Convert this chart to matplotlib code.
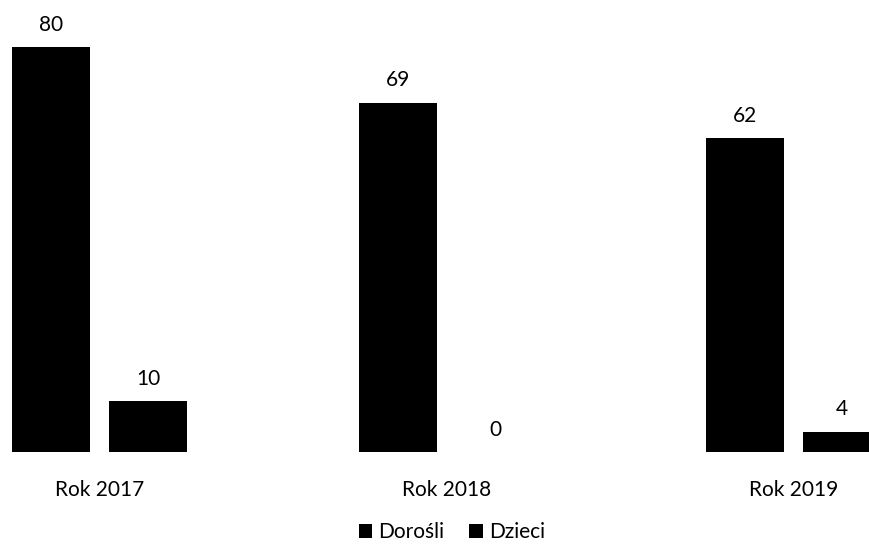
import numpy as np
import matplotlib.pyplot as plt

plt.rcParams['font.family'] = ['Lato', 'DejaVu Sans']

years = ['Rok 2017', 'Rok 2018', 'Rok 2019']
dorosli = [80, 69, 62]
dzieci = [10, 0, 4]

fig = plt.figure(figsize=(8.7, 5.45), dpi=100)
ax = fig.add_axes([0, 93 / 545, 1, 452 / 545])

x = np.arange(len(years))
w = 0.225
off = 0.14
b1 = ax.bar(x - off, dorosli, w, color='black', label='Dorośli')
b2 = ax.bar(x + off, dzieci, w, color='black', label='Dzieci')

for bars, vals in ((b1, dorosli), (b2, dzieci)):
    for r, v in zip(bars, vals):
        ax.annotate(str(v), (r.get_x() + r.get_width() / 2, v),
                    xytext=(0, 9), textcoords='offset points',
                    ha='center', va='bottom', fontsize=15)

ax.set_xlim(-0.287, 2.22)
ax.set_ylim(0, 89.3)
ax.set_xticks(x)
ax.set_xticklabels(years, fontsize=15)
ax.tick_params(axis='x', length=0, pad=20)
ax.set_yticks([])
for s in ax.spines.values():
    s.set_visible(False)

fig.legend(loc='center', bbox_to_anchor=(452 / 870, 1 - 532 / 545),
           ncol=2, frameon=False, fontsize=15, handlelength=0.65,
           handleheight=0.65, handletextpad=0.3, columnspacing=1.2,
           borderpad=0.1)

fig.savefig('out.png', dpi=100)
